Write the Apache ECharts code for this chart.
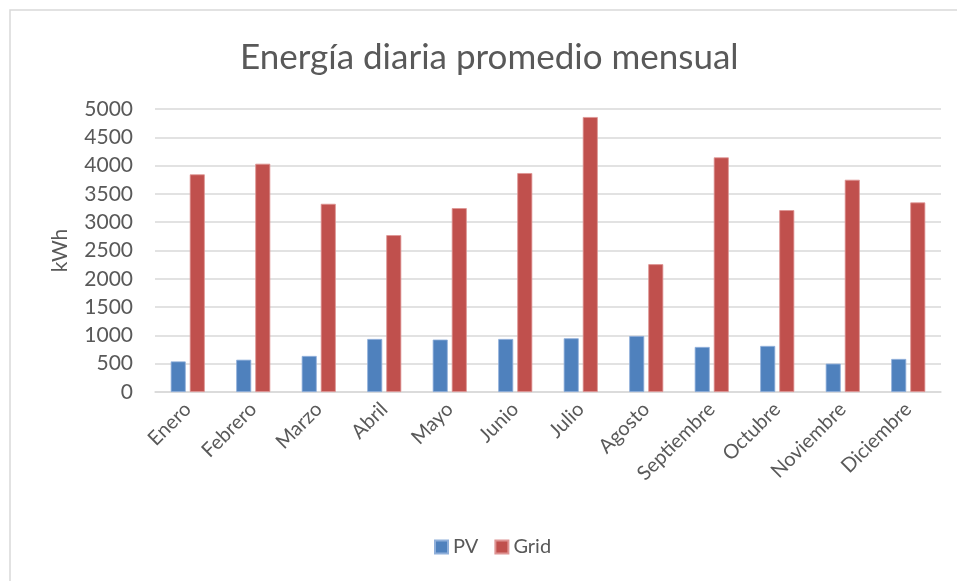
<!DOCTYPE html>
<html>
<head>
<meta charset="utf-8">
<script src="https://cdn.jsdelivr.net/npm/echarts@6/dist/echarts.min.js"></script>
<style>
  html, body { margin: 0; padding: 0; background: #fff; }
  #chart { width: 957px; height: 581px; }
</style>
</head>
<body>
<div id="chart"></div>
<script>
// datos
const months = ['Enero', 'Febrero', 'Marzo', 'Abril', 'Mayo', 'Junio', 'Julio', 'Agosto', 'Septiembre', 'Octubre', 'Noviembre', 'Diciembre'];
const pv = [540, 570, 637, 937, 926, 937, 949, 990, 796, 814, 501, 584];
const grid = [3845, 4033, 3325, 2771, 3249, 3868, 4858, 2258, 4145, 3213, 3750, 3349];

const font = 'Lato';
const textColor = '#595959';

const chart = echarts.init(document.getElementById('chart'));
chart.setOption({
  animation: false,
  textStyle: { fontFamily: font },
  title: {
    text: 'Energía diaria promedio mensual',
    left: 235,
    top: 35,
    textStyle: { fontFamily: font, fontSize: 35, fontWeight: 'normal', color: textColor }
  },
  graphic: [{
    type: 'rect',
    shape: { x: 10, y: 10, width: 960, height: 600 },
    style: { fill: 'none', stroke: '#d9d9d9', lineWidth: 1.5 },
    silent: true
  }],
  legend: {
    bottom: 19,
    left: 429,
    itemWidth: 13,
    itemHeight: 13,
    itemGap: 16,
    icon: 'rect',
    textStyle: { fontFamily: font, fontSize: 20, color: textColor }
  },
  grid: { left: 155, right: 16, top: 109, bottom: 189, containLabel: false },
  xAxis: {
    type: 'category',
    data: months,
    axisLine: { lineStyle: { color: '#d9d9d9', width: 1.5 } },
    axisTick: { show: false },
    axisLabel: { rotate: 45, fontSize: 20, color: textColor, margin: 14, interval: 0 }
  },
  yAxis: {
    type: 'value',
    name: 'kWh',
    nameLocation: 'middle',
    nameGap: 84,
    nameRotate: 90,
    nameTextStyle: { fontSize: 21, color: textColor },
    min: 0,
    max: 5000,
    interval: 500,
    axisLine: { show: false },
    axisTick: { show: false },
    axisLabel: { fontSize: 21, color: textColor, margin: 22, formatter: v => String(v) },
    splitLine: { lineStyle: { color: '#d9d9d9', width: 1.5 } }
  },
  series: [
    {
      name: 'PV',
      type: 'bar',
      data: pv,
      barWidth: 15,
      barGap: '27%',
      itemStyle: { color: '#4F81BD', borderColor: '#8FAFDA', borderWidth: 0.8 }
    },
    {
      name: 'Grid',
      type: 'bar',
      data: grid,
      barWidth: 15,
      itemStyle: { color: '#C0504D', borderColor: '#DE9493', borderWidth: 0.8 }
    }
  ]
});
</script>
</body>
</html>
